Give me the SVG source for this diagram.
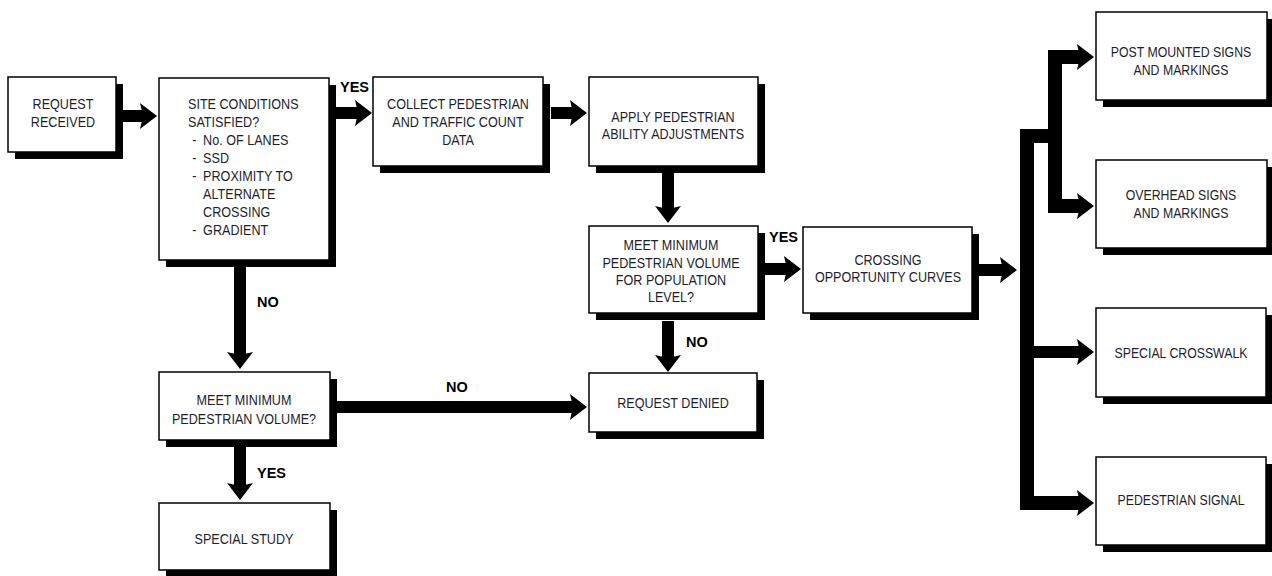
<svg xmlns="http://www.w3.org/2000/svg" width="1272" height="576" viewBox="0 0 1272 576">
<style>
.sh{fill:#000}
.bx{fill:#fff;stroke:#000;stroke-width:1.5}
.t{font-family:"Liberation Sans",Arial,sans-serif;font-size:15px;fill:#1e1e2e}
.c{text-anchor:middle}
.lb{font-family:"Liberation Sans",Arial,sans-serif;font-size:14.5px;font-weight:bold;fill:#000}
.ar{fill:none;stroke:#000;stroke-width:12;stroke-linejoin:miter;marker-end:url(#ah)}
.tr{fill:none;stroke:#000;stroke-width:14;stroke-linejoin:miter}
</style>
<defs>
<marker id="ah" markerUnits="userSpaceOnUse" markerWidth="20" markerHeight="26" refX="3" refY="13" orient="auto" overflow="visible">
<path d="M0,0 L17,13 L0,26 L3,13 z" fill="#000"/>
</marker>
</defs>

<g id="connectors">
<path class="ar" d="M122,116 H143"/>
<path class="ar" d="M336,113 H358"/>
<path class="ar" d="M551,113 H573"/>
<path class="ar" d="M668,173 V209"/>
<path class="ar" d="M764,269 H787"/>
<path class="ar" d="M978,270 H1003"/>
<path class="ar" d="M668,321 V358"/>
<path class="ar" d="M240,267 V355"/>
<path class="ar" d="M336,407 H573"/>
<path class="ar" d="M240,447 V486"/>
<polyline class="tr" points="1079,503 1027,503 1027,136 1055,136"/>
<polyline class="tr" points="1079,57 1055,57 1055,206 1079,206"/>
<path class="ar" d="M1079,57 H1080"/>
<path class="ar" d="M1079,206 H1080"/>
<path class="ar" d="M1027,352 H1080"/>
<path class="ar" d="M1079,503 H1080"/>
<text class="lb" x="340" y="92">YES</text>
<text class="lb" x="257" y="307">NO</text>
<text class="lb" x="769" y="242">YES</text>
<text class="lb" x="686" y="347">NO</text>
<text class="lb" x="446" y="392">NO</text>
<text class="lb" x="257" y="478">YES</text>
</g>

<g id="request-received">
<rect class="sh" x="15" y="84" width="108" height="75"/>
<rect class="bx" x="8" y="77" width="108" height="75"/>
<g transform="translate(63,0) scale(0.84,1)"><text class="t c" x="0" y="109">REQUEST</text><text class="t c" x="0" y="127">RECEIVED</text></g>
</g>

<g id="site-conditions">
<rect class="sh" x="166" y="85" width="170" height="182"/>
<rect class="bx" x="159" y="78" width="170" height="182"/>
<g transform="translate(188,0) scale(0.84,1)">
<text class="t" x="0" y="109">SITE CONDITIONS</text>
<text class="t" x="0" y="127">SATISFIED?</text>
<text class="t" x="5" y="145">-</text><text class="t" x="18" y="145">No. OF LANES</text>
<text class="t" x="5" y="163">-</text><text class="t" x="18" y="163">SSD</text>
<text class="t" x="5" y="181">-</text><text class="t" x="18" y="181">PROXIMITY TO</text>
<text class="t" x="18" y="199">ALTERNATE</text>
<text class="t" x="18" y="217">CROSSING</text>
<text class="t" x="5" y="235">-</text><text class="t" x="18" y="235">GRADIENT</text>
</g>
</g>

<g id="collect-data">
<rect class="sh" x="380" y="84" width="170" height="89"/>
<rect class="bx" x="373" y="77" width="170" height="89"/>
<g transform="translate(458,0) scale(0.84,1)"><text class="t c" x="0" y="109">COLLECT PEDESTRIAN</text><text class="t c" x="0" y="127">AND TRAFFIC COUNT</text><text class="t c" x="0" y="145">DATA</text></g>
</g>

<g id="apply-adjustments">
<rect class="sh" x="596" y="84" width="169" height="89"/>
<rect class="bx" x="589" y="77" width="169" height="89"/>
<g transform="translate(673,0) scale(0.84,1)"><text class="t c" x="0" y="122">APPLY PEDESTRIAN</text><text class="t c" x="0" y="139">ABILITY ADJUSTMENTS</text></g>
</g>

<g id="meet-min-population">
<rect class="sh" x="596" y="233" width="169" height="87"/>
<rect class="bx" x="589" y="226" width="169" height="87"/>
<g transform="translate(671,0) scale(0.84,1)"><text class="t c" x="0" y="250">MEET MINIMUM</text><text class="t c" x="0" y="268">PEDESTRIAN VOLUME</text><text class="t c" x="0" y="285">FOR POPULATION</text><text class="t c" x="0" y="302">LEVEL?</text></g>
</g>

<g id="crossing-curves">
<rect class="sh" x="810" y="234" width="169" height="86"/>
<rect class="bx" x="803" y="227" width="169" height="86"/>
<g transform="translate(888,0) scale(0.84,1)"><text class="t c" x="0" y="265">CROSSING</text><text class="t c" x="0" y="282">OPPORTUNITY CURVES</text></g>
</g>

<g id="post-mounted">
<rect class="sh" x="1103" y="19" width="171" height="88"/>
<rect class="bx" x="1096" y="12" width="171" height="88"/>
<g transform="translate(1181,0) scale(0.82,1)"><text class="t c" x="0" y="57">POST MOUNTED SIGNS</text><text class="t c" x="0" y="75">AND MARKINGS</text></g>
</g>

<g id="overhead">
<rect class="sh" x="1103" y="167" width="171" height="88"/>
<rect class="bx" x="1096" y="160" width="171" height="88"/>
<g transform="translate(1181,0) scale(0.82,1)"><text class="t c" x="0" y="200">OVERHEAD SIGNS</text><text class="t c" x="0" y="218">AND MARKINGS</text></g>
</g>

<g id="special-crosswalk">
<rect class="sh" x="1103" y="315" width="170" height="89"/>
<rect class="bx" x="1096" y="308" width="170" height="89"/>
<g transform="translate(1181,0) scale(0.82,1)"><text class="t c" x="0" y="358">SPECIAL CROSSWALK</text></g>
</g>

<g id="pedestrian-signal">
<rect class="sh" x="1103" y="464" width="170" height="88"/>
<rect class="bx" x="1096" y="457" width="170" height="88"/>
<g transform="translate(1181,0) scale(0.82,1)"><text class="t c" x="0" y="505">PEDESTRIAN SIGNAL</text></g>
</g>

<g id="meet-min-volume">
<rect class="sh" x="166" y="379" width="171" height="68"/>
<rect class="bx" x="159" y="372" width="171" height="68"/>
<g transform="translate(244,0) scale(0.84,1)"><text class="t c" x="0" y="405">MEET MINIMUM</text><text class="t c" x="0" y="424">PEDESTRIAN VOLUME?</text></g>
</g>

<g id="request-denied">
<rect class="sh" x="596" y="380" width="168" height="59"/>
<rect class="bx" x="589" y="373" width="168" height="59"/>
<g transform="translate(673,0) scale(0.84,1)"><text class="t c" x="0" y="408">REQUEST DENIED</text></g>
</g>

<g id="special-study">
<rect class="sh" x="166" y="510" width="171" height="67"/>
<rect class="bx" x="159" y="503" width="171" height="67"/>
<g transform="translate(244,0) scale(0.84,1)"><text class="t c" x="0" y="544">SPECIAL STUDY</text></g>
</g>
</svg>
